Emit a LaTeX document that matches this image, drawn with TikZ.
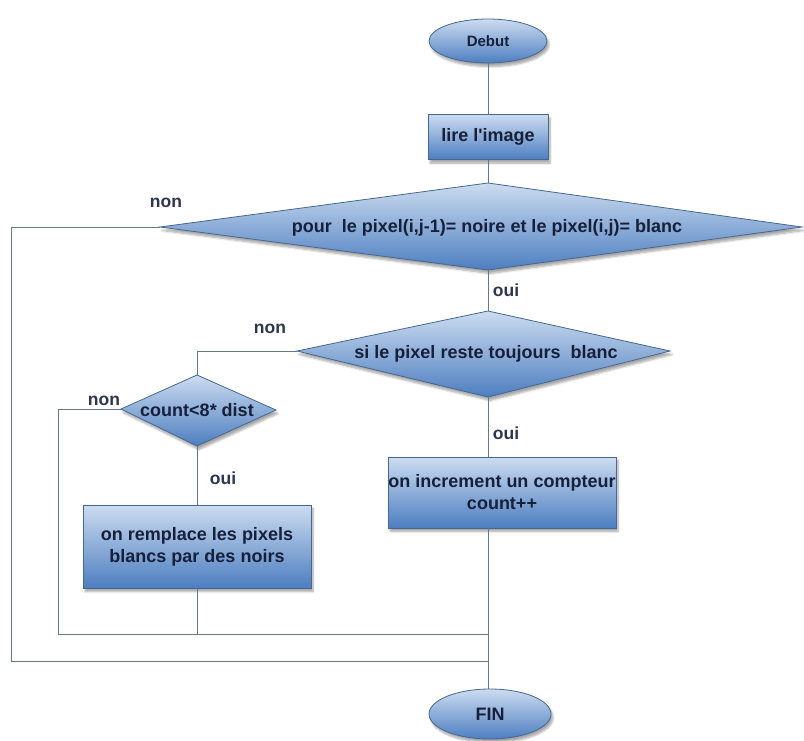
\documentclass[tikz,border=0pt]{standalone}
\usepackage{fontspec}
\setmainfont{Liberation Sans}[Ligatures=TeXOff]
\usetikzlibrary{shapes.geometric,shadows.blur}

\definecolor{fillTop}{HTML}{CCDCF0}
\definecolor{fillBot}{HTML}{4D7EC0}
\definecolor{edgeBlue}{HTML}{46678F}
\definecolor{wire}{HTML}{637889}
\definecolor{ink}{HTML}{16203A}

\tikzset{
  glossy/.style={top color=fillTop, bottom color=fillBot, draw=edgeBlue, line width=0.8pt,
    blur shadow={shadow xshift=2pt, shadow yshift=-3.5pt, shadow blur steps=6, shadow opacity=35}},
  terminal/.style={glossy, ellipse, inner sep=0pt, text=ink, font=\bfseries\fontsize{15}{18}\selectfont},
  stepbox/.style={glossy, rectangle, inner sep=0pt, align=center, text=ink, font=\bfseries\fontsize{18}{22}\selectfont},
  decision/.style={glossy, line join=miter},
  dtext/.style={inner sep=0pt, text=ink, font=\bfseries\fontsize{18}{22}\selectfont},
  wirestyle/.style={draw=wire, line width=1pt},
  lbl/.style={inner sep=0pt, text=ink!90, font=\bfseries\fontsize{17.5}{20}\selectfont},
}

\begin{document}
\begin{tikzpicture}[x=1pt, y=-1pt]
\useasboundingbox (0,0) rectangle (804,740);

% start / end
\node[terminal, minimum width=118pt, minimum height=44pt] (debut) at (488,41) {Debut};
\node[terminal, font=\bfseries\fontsize{18}{22}\selectfont, minimum width=122pt, minimum height=50pt] (fin) at (490,714) {FIN};

% read step
\node[stepbox, minimum width=120pt, minimum height=45pt] (lire) at (488,137) {lire l'image};

% first test
\coordinate (d1w) at (160,227);
\coordinate (d1n) at (488,183);
\coordinate (d1e) at (802,227);
\coordinate (d1s) at (488,270);
\path[decision] (d1w) -- (d1n) -- (d1e) -- (d1s) -- cycle;
\node[dtext] (d1) at (487,228) {pour\ \ le pixel(i,j-1)= noire et le pixel(i,j)= blanc};

% second test
\coordinate (d2w) at (297,351);
\coordinate (d2n) at (488,311);
\coordinate (d2e) at (670,351);
\coordinate (d2s) at (488,397);
\path[decision] (d2w) -- (d2n) -- (d2e) -- (d2s) -- cycle;
\node[dtext] (d2) at (486,354) {si le pixel reste toujours\ \ blanc};

% count test
\coordinate (d3w) at (121,409);
\coordinate (d3n) at (197,375);
\coordinate (d3e) at (276,410);
\coordinate (d3s) at (197,446);
\path[decision] (d3w) -- (d3n) -- (d3e) -- (d3s) -- cycle;
\node[dtext] (d3) at (197,410) {count<8* dist};

% action steps
\node[stepbox, minimum width=228pt, minimum height=83pt] (rempl) at (197,546.5)
  {on remplace les pixels\\blancs par des noirs};
\node[stepbox, minimum width=228pt, minimum height=71pt] (incr) at (502,492.5)
  {on increment un compteur\\count++};

% junction points of the loops
\coordinate (outerL) at (11,661);
\coordinate (innerL) at (58,634);
\coordinate (joinA) at (488,634);
\coordinate (joinB) at (488,661);

% connectors
\draw[wirestyle] (debut.south) -- (lire.north);
\draw[wirestyle] (lire.south) -- (d1n);
\draw[wirestyle] (d1s) -- (d2n);
\draw[wirestyle] (d1w) -| (outerL) -- (joinB);
\draw[wirestyle] (d2w) -| (d3n);
\draw[wirestyle] (d3w) -| (innerL) -- (joinA);
\draw[wirestyle] (d3s) -- (rempl.north);
\draw[wirestyle] (rempl.south) -- (rempl.south |- joinA);
\draw[wirestyle] (d2s) -- (d2s |- incr.north);
\draw[wirestyle] (d2s |- incr.south) -- (fin.north -| d2s);

% branch labels
\node[lbl] (l1) at (166,203) {non};
\node[lbl] (l2) at (506,290) {oui};
\node[lbl] (l3) at (270,329) {non};
\node[lbl] (l4) at (104,401) {non};
\node[lbl] (l5) at (506,433) {oui};
\node[lbl] (l6) at (223,478) {oui};
\end{tikzpicture}
\end{document}
